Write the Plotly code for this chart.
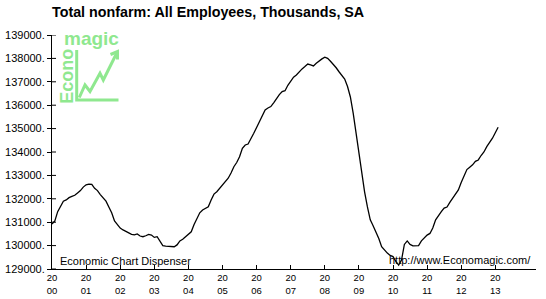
import plotly.graph_objects as go

# ---- data (monthly, Jan 2000 .. Feb 2013), thousands, SA ----
start_year = 2000
values = [
    130920, 131050, 131450, 131700, 131900, 131950, 132050, 132100, 132150, 132250, 132350, 132500,  # 2000
    132600, 132630, 132620, 132450, 132350, 132180, 132050, 131900, 131650, 131400, 131050, 130900,  # 2001
    130750, 130670, 130600, 130530, 130480, 130460, 130500, 130410, 130380, 130420, 130480, 130450,  # 2002
    130350, 130380, 130170, 130000, 129980, 129980, 129970, 129950, 130030, 130200, 130270, 130380,  # 2003
    130450, 130590, 130900, 131170, 131400, 131520, 131600, 131660, 131950, 132200, 132300, 132450,  # 2004
    132580, 132700, 132880, 133100, 133370, 133550, 133800, 134160, 134300, 134340, 134550, 134800,  # 2005
    135050, 135290, 135500, 135800, 135880, 135940, 136100, 136300, 136450, 136580, 136620, 136850,  # 2006
    137050, 137200, 137290, 137430, 137550, 137650, 137760, 137720, 137680, 137790, 137900, 137980,  # 2007
    138050, 138000, 137880, 137750, 137600, 137430, 137250, 137120, 136800, 136350, 135650, 134800,  # 2008
    134000, 133100, 132300, 131650, 131100, 130850, 130600, 130300, 129950, 129810, 129680, 129580,  # 2009
    129530, 129330, 129170, 129380, 130050, 130200, 130050, 129990, 129980, 130000, 130200, 130350,  # 2010
    130450, 130520, 130750, 131100, 131300, 131450, 131600, 131650, 131850, 132020, 132200, 132380,  # 2011
    132700, 132950, 133250, 133350, 133450, 133600, 133660, 133850, 134000, 134230, 134400, 134590,  # 2012
    134820, 135060,                                                                                  # 2013
]
x_years = [start_year + i / 12 for i in range(len(values))]

year_ticks = list(range(2000, 2014))
year_labels = [f"{str(y)[:2]}<br>{str(y)[2:]}" for y in year_ticks]
y_ticks = list(range(129000, 139001, 1000))
y_labels = [f"{v}." for v in y_ticks]

title_text = "Total nonfarm: All Employees, Thousands, SA"
left_note = "Economic Chart Dispenser"
right_note = "http://www.Economagic.com/"

# ---- layout geometry (pixels) ----
W, H = 546, 299
L, R, T, B = 52, 10, 35, 30
PW, PH = W - L - R, H - T - B
PX_PER_YEAR = 34.1
x_range = [2000, 2000 + PW / PX_PER_YEAR]


def px(xp):
    return (xp - L) / PW


def py(yp):
    return (H - B - yp) / PH


FONT = "Liberation Sans, Arial, sans-serif"
GREEN = "#8fe88f"

fig = go.Figure()
fig.add_trace(go.Scatter(
    x=x_years, y=values, mode="lines",
    line=dict(color="black", width=1.3),
    hoverinfo="skip", showlegend=False,
))

shapes = []
# inner half of the y ticks (ticks cross the axis)
for v in y_ticks:
    shapes.append(dict(type="line", xref="paper", yref="y",
                       x0=0, x1=4 / PW, y0=v, y1=v,
                       line=dict(color="black", width=1)))


def seg(pts, width=3):
    path = "M " + " L ".join(f"{px(a)},{py(b)}" for a, b in pts)
    return dict(type="path", xref="paper", yref="paper", path=path,
                line=dict(color=GREEN, width=width), layer="above")


# logo
shapes.append(seg([(76.7, 50), (76.7, 100), (118.5, 100)]))
shapes.append(seg([(79.3, 97.5), (85, 85), (90, 91.5), (100, 73.3), (103.3, 80), (117, 52.5)]))
shapes.append(seg([(110.5, 54.5), (117.5, 51.5), (117.5, 59.5)]))

annotations = [
    dict(text="<b>magic</b>", xref="paper", yref="paper", x=px(91.5), y=py(38.5),
         xanchor="center", yanchor="middle", showarrow=False,
         font=dict(family=FONT, size=19, color=GREEN)),
    dict(text="<b>Econo</b>", xref="paper", yref="paper", x=px(66.7), y=py(76),
         xanchor="center", yanchor="middle", showarrow=False, textangle=-90,
         font=dict(family=FONT, size=18, color=GREEN)),
    dict(text=left_note, xref="paper", yref="paper", x=px(58), y=py(261),
         xanchor="left", yanchor="middle", showarrow=False,
         font=dict(family=FONT, size=11, color="black")),
    dict(text=right_note, xref="paper", yref="paper", x=px(533), y=py(259.5),
         xanchor="right", yanchor="middle", showarrow=False,
         font=dict(family=FONT, size=11, color="black")),
]

fig.update_layout(
    width=W, height=H,
    margin=dict(l=L, r=R, t=T, b=B, pad=0, autoexpand=False),
    paper_bgcolor="white", plot_bgcolor="white",
    title=dict(text="<b>" + title_text + "</b>", x=L / W, xanchor="left", xref="container",
               y=1 - 12 / H, yanchor="middle",
               font=dict(family=FONT, size=14.3, color="black")),
    font=dict(family=FONT, color="black"),
    showlegend=False,
    shapes=shapes,
    annotations=annotations,
    xaxis=dict(range=x_range, tickmode="array", tickvals=year_ticks, ticktext=year_labels,
               ticks="inside", ticklen=4, tickcolor="black", tickwidth=1,
               showline=True, linecolor="black", linewidth=1,
               showgrid=False, zeroline=False, automargin=False,
               tickfont=dict(family=FONT, size=9.5, color="black")),
    yaxis=dict(range=[129000, 139000], tickmode="array", tickvals=y_ticks, ticktext=y_labels,
               ticks="outside", ticklen=4, tickcolor="black", tickwidth=1,
               showline=True, linecolor="black", linewidth=1,
               showgrid=False, zeroline=False, automargin=False,
               tickfont=dict(family=FONT, size=11, color="black")),
)

fig.write_html("out.html")
